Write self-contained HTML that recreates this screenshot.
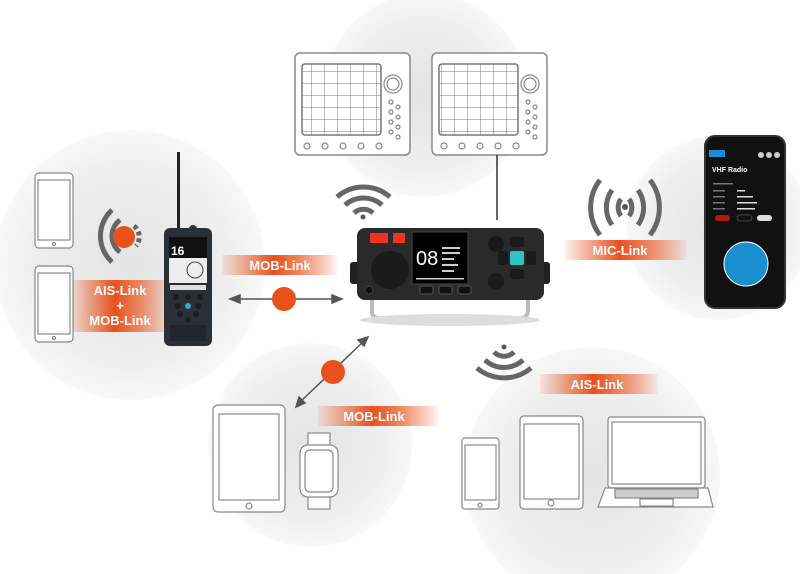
<!DOCTYPE html>
<html><head><meta charset="utf-8"><style>
html,body{margin:0;padding:0;background:#fff;width:800px;height:574px;overflow:hidden}
svg{display:block;overflow:hidden}
text{font-family:"Liberation Sans",sans-serif;font-weight:bold;fill:#fff}
</style></head><body>
<svg width="800" height="574" viewBox="0 0 800 574" xmlns="http://www.w3.org/2000/svg">
<defs>
<radialGradient id="cg" cx="50%" cy="50%" r="50%">
<stop offset="0" stop-color="#e4e4e4"/><stop offset="0.7" stop-color="#eeeeee"/><stop offset="1" stop-color="#f8f8f8"/>
</radialGradient>
<linearGradient id="lg" x1="0" x2="1" y1="0" y2="0">
<stop offset="0" stop-color="#e8501c" stop-opacity="0.08"/>
<stop offset="0.45" stop-color="#e8501c" stop-opacity="1"/>
<stop offset="0.65" stop-color="#ea6a3a" stop-opacity="0.85"/>
<stop offset="1" stop-color="#e8501c" stop-opacity="0.05"/>
</linearGradient>
<pattern id="grid" width="13" height="12" patternUnits="userSpaceOnUse">
<path d="M13 0V12M0 12H13" stroke="#777" stroke-width="1" fill="none"/>
</pattern>
</defs>

<circle cx="425" cy="95" r="102" fill="url(#cg)"/>
<circle cx="130" cy="265" r="135" fill="url(#cg)"/>
<circle cx="718" cy="228" r="92" fill="url(#cg)"/>
<circle cx="310" cy="445" r="102" fill="url(#cg)"/>
<circle cx="592" cy="475" r="128" fill="url(#cg)"/>

<g fill="#fff" stroke="#888" stroke-width="1.5">
<rect x="295" y="53" width="115" height="102" rx="5"/>
<rect x="432" y="53" width="115" height="102" rx="5"/>
</g>
<rect x="302" y="64" width="79" height="71" rx="3" fill="url(#grid)" stroke="#777" stroke-width="1.5"/>
<rect x="439" y="64" width="79" height="71" rx="3" fill="url(#grid)" stroke="#777" stroke-width="1.5"/>
<g fill="none" stroke="#888" stroke-width="1.2">
<circle cx="393" cy="84" r="9"/><circle cx="393" cy="84" r="6"/>
<circle cx="530" cy="84" r="9"/><circle cx="530" cy="84" r="6"/>
<circle cx="391" cy="102" r="2"/><circle cx="398" cy="107" r="2"/><circle cx="391" cy="112" r="2"/><circle cx="398" cy="117" r="2"/><circle cx="391" cy="122" r="2"/><circle cx="398" cy="127" r="2"/><circle cx="391" cy="132" r="2"/><circle cx="398" cy="137" r="2"/>
<circle cx="528" cy="102" r="2"/><circle cx="535" cy="107" r="2"/><circle cx="528" cy="112" r="2"/><circle cx="535" cy="117" r="2"/><circle cx="528" cy="122" r="2"/><circle cx="535" cy="127" r="2"/><circle cx="528" cy="132" r="2"/><circle cx="535" cy="137" r="2"/>
<circle cx="307" cy="146" r="3"/><circle cx="325" cy="146" r="3"/><circle cx="343" cy="146" r="3"/><circle cx="361" cy="146" r="3"/><circle cx="379" cy="146" r="3"/>
<circle cx="444" cy="146" r="3"/><circle cx="462" cy="146" r="3"/><circle cx="480" cy="146" r="3"/><circle cx="498" cy="146" r="3"/><circle cx="516" cy="146" r="3"/>
</g>
<line x1="497" y1="155" x2="497" y2="220" stroke="#333" stroke-width="1.5"/>

<g fill="none" stroke="#666" stroke-width="5">
<path d="M337 197 A40 40 0 0 1 390 197"/>
<path d="M345 205 A28 28 0 0 1 382 205"/>
<path d="M354 213 A14 14 0 0 1 373 213"/>
</g>
<circle cx="363" cy="217" r="2.5" fill="#555"/>

<rect x="350" y="262" width="12" height="22" rx="3" fill="#222"/>
<rect x="538" y="262" width="12" height="22" rx="3" fill="#222"/>
<path d="M372 300 L372 312 Q372 318 380 318 L520 318 Q528 318 528 310 L528 300" fill="none" stroke="#bbb" stroke-width="4"/>
<ellipse cx="450" cy="320" rx="90" ry="6" fill="#ddd"/>
<rect x="357" y="228" width="187" height="72" rx="8" fill="#2a2a2a"/>
<rect x="370" y="233" width="18" height="10" fill="#e32"/><rect x="393" y="233" width="12" height="10" fill="#e32"/>
<circle cx="390" cy="270" r="19" fill="#1a1a1a"/>
<circle cx="369" cy="290" r="4" fill="#111" stroke="#444"/>
<rect x="412" y="232" width="56" height="52" fill="#000" stroke="#444"/>
<text x="416" y="265" font-size="20" font-weight="normal" style="fill:#fff;font-weight:normal">08</text>
<g fill="#ccc"><rect x="442" y="247" width="18" height="2"/><rect x="442" y="252" width="18" height="2"/><rect x="442" y="258" width="12" height="2"/><rect x="442" y="264" width="16" height="2"/><rect x="442" y="270" width="12" height="2"/><rect x="416" y="278" width="48" height="1.5"/></g>
<rect x="420" y="286" width="13" height="8" rx="2" fill="#111" stroke="#555"/><rect x="439" y="286" width="13" height="8" rx="2" fill="#111" stroke="#555"/><rect x="458" y="286" width="13" height="8" rx="2" fill="#111" stroke="#555"/>
<circle cx="496" cy="244" r="8" fill="#1a1a1a"/><circle cx="496" cy="281" r="8" fill="#1a1a1a"/>
<rect x="510" y="251" width="14" height="14" rx="2" fill="#2ec4c4"/>
<rect x="510" y="237" width="14" height="10" rx="2" fill="#1a1a1a"/><rect x="510" y="269" width="14" height="10" rx="2" fill="#1a1a1a"/>
<rect x="498" y="251" width="10" height="14" rx="2" fill="#1a1a1a"/><rect x="526" y="251" width="10" height="14" rx="2" fill="#1a1a1a"/>

<rect x="222" y="255" width="115" height="20" fill="url(#lg)"/>
<text x="280" y="270" font-size="13" text-anchor="middle">MOB-Link</text>
<rect x="70" y="280" width="100" height="52" fill="url(#lg)"/>
<text x="120" y="295" font-size="13" text-anchor="middle">AIS-Link</text>
<text x="120" y="310" font-size="13" text-anchor="middle">+</text>
<text x="120" y="325" font-size="13" text-anchor="middle">MOB-Link</text>
<rect x="318" y="406" width="120" height="20" fill="url(#lg)"/>
<text x="374" y="421" font-size="13" text-anchor="middle">MOB-Link</text>
<rect x="540" y="374" width="118" height="20" fill="url(#lg)"/>
<text x="597" y="389" font-size="13" text-anchor="middle">AIS-Link</text>
<rect x="565" y="240" width="122" height="20" fill="url(#lg)"/>
<text x="620" y="255" font-size="13" text-anchor="middle">MIC-Link</text>

<g stroke="#555" stroke-width="1.5" fill="#555">
<line x1="236" y1="299" x2="336" y2="299"/>
<path d="M230 299 L240 295 L240 303Z"/><path d="M342 299 L332 295 L332 303Z"/>
<line x1="299" y1="403" x2="365" y2="340"/>
<path d="M296 407 L299 397 L305 403Z"/><path d="M368 337 L358 340 L364 346Z"/>
</g>
<circle cx="284" cy="299" r="12" fill="#e8501c"/>
<circle cx="333" cy="372" r="12" fill="#e8501c"/>

<g fill="#fff" stroke="#888" stroke-width="1.2">
<rect x="35" y="173" width="38" height="75" rx="4"/><rect x="38" y="180" width="32" height="60" fill="none"/>
<rect x="35" y="266" width="38" height="76" rx="4"/><rect x="38" y="273" width="32" height="61" fill="none"/>
<circle cx="54" cy="244" r="1.5"/><circle cx="54" cy="338" r="1.5"/>
</g>
<g fill="none" stroke="#666" stroke-width="5">
<path d="M112 210 A35 35 0 0 0 112 262"/>
<path d="M120 220 A20 20 0 0 0 120 252"/>
<path d="M134 226 A14 14 0 0 1 136 246" stroke-dasharray="4 3"/>
</g>
<circle cx="124" cy="237" r="11" fill="#e8501c"/>

<rect x="177" y="152" width="3" height="80" fill="#222"/>
<circle cx="193" cy="229" r="4" fill="#333"/>
<rect x="164" y="228" width="48" height="118" rx="6" fill="#2b2f36"/>
<rect x="169" y="237" width="38" height="46" fill="#111"/>
<text x="171" y="255" font-size="12" style="fill:#fff">16</text>
<rect x="169" y="258" width="38" height="25" fill="#eee"/>
<circle cx="195" cy="270" r="8" fill="none" stroke="#444"/>
<rect x="170" y="285" width="36" height="5" fill="#ddd"/>
<g fill="#1a1d22"><circle cx="176" cy="297" r="3"/><circle cx="188" cy="297" r="3"/><circle cx="200" cy="297" r="3"/><circle cx="178" cy="306" r="3"/><circle cx="198" cy="306" r="3"/><circle cx="180" cy="314" r="3"/><circle cx="196" cy="314" r="3"/><circle cx="188" cy="320" r="3"/></g>
<circle cx="188" cy="306" r="3" fill="#3aa6d8"/>
<rect x="170" y="325" width="36" height="16" fill="#23262c"/>

<rect x="705" y="136" width="80" height="172" rx="10" fill="#111" stroke="#333" stroke-width="2"/>
<rect x="709" y="150" width="16" height="7" fill="#1a8fd0"/>
<circle cx="761" cy="155" r="3" fill="#ccc"/><circle cx="769" cy="155" r="3" fill="#ccc"/><circle cx="777" cy="155" r="3" fill="#ccc"/>
<text x="712" y="172" font-size="7" style="fill:#fff">VHF Radio</text>
<g fill="#777"><rect x="713" y="183" width="20" height="1.5"/><rect x="713" y="190" width="12" height="1.5"/><rect x="713" y="196" width="12" height="1.5"/><rect x="713" y="202" width="12" height="1.5"/><rect x="713" y="208" width="12" height="1.5"/>
<rect x="737" y="190" width="8" height="1.5" fill="#ddd"/><rect x="737" y="196" width="16" height="1.5" fill="#ddd"/><rect x="737" y="202" width="20" height="1.5" fill="#ddd"/><rect x="737" y="208" width="18" height="1.5" fill="#ddd"/></g>
<rect x="715" y="215" width="15" height="6" rx="3" fill="#b21a1a"/>
<rect x="737" y="215" width="15" height="6" rx="3" fill="#111" stroke="#444"/>
<rect x="757" y="215" width="15" height="6" rx="3" fill="#ddd"/>
<circle cx="746" cy="264" r="22" fill="#1a8fd0" stroke="#fff" stroke-width="1"/>
<g fill="none" stroke="#666" stroke-width="5">
<path d="M600 180 A45 45 0 0 0 600 235"/><path d="M612 190 A30 30 0 0 0 612 225"/><path d="M621 199 A14 14 0 0 0 621 216"/>
<path d="M650 180 A45 45 0 0 1 650 235"/><path d="M638 190 A30 30 0 0 1 638 225"/><path d="M629 199 A14 14 0 0 1 629 216"/>
</g>
<circle cx="625" cy="207" r="3" fill="#555"/>

<g fill="#fff" stroke="#888" stroke-width="1.2">
<rect x="213" y="405" width="72" height="107" rx="5"/><rect x="219" y="414" width="60" height="86" fill="none"/>
<circle cx="249" cy="506" r="3"/>
<rect x="308" y="433" width="22" height="14"/><rect x="308" y="495" width="22" height="14"/>
<rect x="300" y="445" width="38" height="52" rx="8"/><rect x="305" y="450" width="28" height="42" rx="5" fill="none"/>
</g>

<g fill="none" stroke="#666" stroke-width="5">
<path d="M477 368 A42 42 0 0 0 531 368"/><path d="M485 360 A28 28 0 0 0 523 360"/><path d="M494 352 A14 14 0 0 0 514 352"/>
</g>
<circle cx="504" cy="347" r="2.5" fill="#555"/>

<g fill="#fff" stroke="#888" stroke-width="1.2">
<rect x="462" y="438" width="37" height="71" rx="3"/><rect x="465" y="445" width="31" height="55" fill="none"/><circle cx="480" cy="505" r="2"/>
<rect x="520" y="416" width="63" height="93" rx="4"/><rect x="524" y="424" width="55" height="75" fill="none"/><circle cx="551" cy="503" r="3"/>
<rect x="608" y="417" width="97" height="71" rx="3"/><rect x="612" y="422" width="89" height="62" fill="none"/>
<path d="M605 488 L708 488 L713 507 L598 507Z"/>
<rect x="615" y="489" width="83" height="9" fill="#ccc"/>
<rect x="640" y="499" width="33" height="7" fill="none"/>
</g>
</svg>
</body></html>
